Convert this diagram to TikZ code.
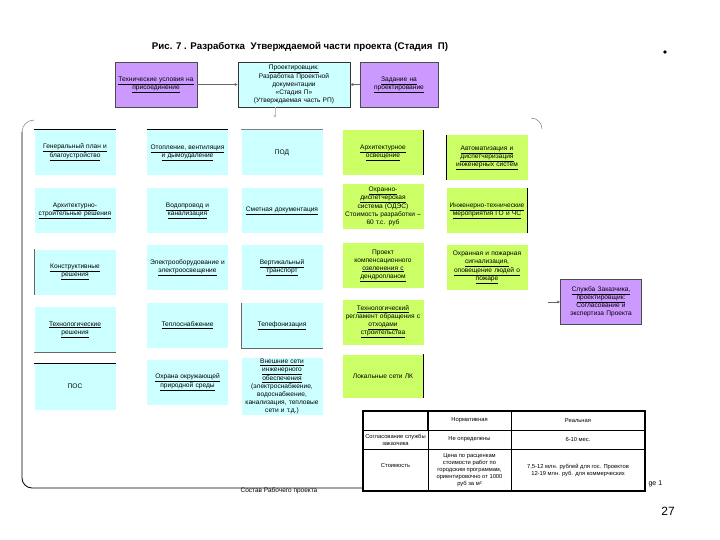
\documentclass[tikz,border=0pt]{standalone}
\usepackage{fontspec}
\setmainfont{Liberation Sans}
\usetikzlibrary{arrows.meta}
\definecolor{cyanbox}{RGB}{204,255,255}
\definecolor{greenbox}{RGB}{204,255,102}
\definecolor{purplebox}{RGB}{204,153,255}
\newcommand\myul[1]{\underline{#1}}
\tikzset{
  basebox/.style={inner sep=1pt, align=center, text width=79pt,
    font=\fontsize{6.6}{8}\selectfont, minimum width=80pt, minimum height=45pt},
  cbox/.style={basebox, fill=cyanbox},
  gbox/.style={basebox, fill=greenbox},
  pbox/.style={basebox, fill=purplebox, draw=black!70, line width=0.5pt},
  conn/.style={draw=black!60, line width=0.5pt, -{Latex[length=3pt,width=3pt]}},
  frameline/.style={draw=black, line width=0.8pt},
  tcell/.style={font=\fontsize{5.8}{7}\selectfont, align=center, inner sep=0pt}
}
\begin{document}
\begin{tikzpicture}[x=1pt,y=-1pt]
\useasboundingbox[fill=white] (0,0) rectangle (720,540);

% title
\node[font=\bfseries\fontsize{9.7}{12}\selectfont] (title) at (300,47) {Рис. 7 . Разработка\ \ Утверждаемой части проекта (Стадия\ \ П)};
\fill (665,52) circle (1.8) coordinate (dot);

% top row
\node[pbox, minimum width=82pt] (tl) at (156,84.5) {\myul{Технические условия на}\\\myul{присоединение}};
\node[basebox, fill=cyanbox, draw=black!80, line width=0.5pt, minimum width=112pt, text width=110pt] (tc) at (294,84.5)
  {\myul{Проектировщик:}\\Разработка Проектной\\документации\\«Стадия П»\\(Утверждаемая часть РП)};
\node[pbox, minimum width=78pt, text width=76pt] (tr) at (399,84.5) {\myul{Задание на}\\\myul{проектирование}};
\draw[conn] (tl) -- (tc);
\draw[conn] (tr) -- (tc);

% frame
\draw[frameline] (22,132) -- (22,478) arc[start angle=180,end angle=90,radius=10] -- (363,488);
\draw[black!60, line width=0.4pt] (22,132) arc[start angle=180,end angle=270,radius=12];
\draw[black!60, line width=0.4pt] (531,118) arc[start angle=270,end angle=360,radius=11];
\coordinate (ftop) at (275,118);
\draw[conn, draw=black!25] (tc.south -| ftop) -- (ftop);

% column 1
\node[cbox] (a1) at (75,152.5) {\myul{Генеральный план и}\\\myul{благоустройство}};
\node[cbox] (a2) at (75,210.5) {\myul{Архитектурно-}\\\myul{строительные решения}};
\node[cbox] (a3) at (75,272) {\myul{Конструктивные}\\\myul{решения}};
\node[cbox] (a4) at (75,329.5) {\myul{Технологические}\\\myul{решения}};
\node[cbox, minimum height=47pt] (a5) at (75,386.5) {ПОС};
% column 2
\node[cbox] (b1) at (187.5,152.5) {\myul{Отопление, вентиляция}\\\myul{и дымоудаление}};
\node[cbox] (b2) at (187.5,210.5) {\myul{Водопровод и}\\\myul{канализация}};
\node[cbox] (b3) at (187.5,267.5) {Электрооборудование и\\\myul{электроосвещение}};
\node[cbox] (b4) at (187.5,325.5) {\myul{Теплоснабжение}};
\node[cbox] (b5) at (187.5,382.5) {\myul{Охрана окружающей}\\\myul{природной среды}};
% column 3
\node[cbox] (c1) at (282,152.5) {ПОД};
\node[cbox] (c2) at (282,210.5) {\myul{Сметная документация}};
\node[cbox] (c3) at (282,267.5) {\myul{Вертикальный}\\\myul{транспорт}};
\node[cbox] (c4) at (282,325.5) {\myul{Телефонизация}};
\node[cbox, minimum height=57pt] (c5) at (282,386.5) {\myul{Внешние сети}\\\myul{инженерного}\\\myul{обеспечения}\\(электроснабжение,\\водоснабжение,\\канализация, тепловые\\сети и т.д.)};
% column 4
\node[gbox] (d1) at (383,152.5) {\myul{Архитектурное}\\\myul{освещение}};
\node[gbox] (d2) at (383,206.5) {\myul{Охранно-}\\\myul{диспетчерская}\\система (ОДЭС)\\Стоимость разработки –\\60 т.с. руб};
\node[gbox] (d3) at (383,265.5) {Проект\\компенсационного\\\myul{озеленения с}\\\myul{дендропланом}};
\node[gbox] (d4) at (383,322) {\myul{Технологический}\\регламент обращения с\\\myul{отходами}\\\myul{строительства}};
\node[gbox, minimum height=43pt] (d5) at (383,376) {Локальные сети ЛК};
% column 5
\node[gbox] (e1) at (487,157.5) {\myul{Автоматизация и}\\\myul{диспетчеризация}\\\myul{инженерных систем}};
\node[gbox] (e2) at (487,210.5) {\myul{Инженерно-технические}\\\myul{мероприятия ГО и ЧС}};
\node[gbox] (e3) at (487,267.5) {Охранная и пожарная\\\myul{сигнализация,}\\\myul{оповещение людей о}\\\myul{пожаре}};

% box edge accents
\draw[black, line width=0.6pt] (a1.north west) -- (a1.north east);
\draw[black, line width=0.6pt] (b1.north west) -- (b1.north east);
\draw[black!50, line width=0.6pt] (c1.north west) -- (c1.north east);
\draw[black, line width=0.6pt] (d1.north east) -- (d1.south east);
\draw[black, line width=0.6pt] (e1.north west) -- (e1.south west);
\draw[black, line width=0.6pt] (e2.north east) -- (e2.south east);
\draw[black!60, line width=0.6pt] (a3.north west) -- (a3.south west);
\draw[black!60, line width=0.6pt] (a4.south west) -- (a4.south east);
\draw[black, line width=0.6pt] (a5.north west) -- (a5.north east);
\draw[black!60, line width=0.6pt] (c4.north west) -- (c4.south west) -- (c4.south east);
\draw[black, line width=0.6pt] (d5.north east) -- (d5.south east);

% right purple box
\node[pbox] (rs) at (601,302) {\myul{Служба Заказчика,}\\\myul{проектировщик:}\\Согласование и\\экспертиза Проекта};
\coordinate (rf) at (548,302);
\draw[conn] (rf) -- (rs);

% table
\coordinate (T0) at (363,411);
\coordinate (T1) at (645,491);
\fill[white] (T0) rectangle (T1);
\draw[line width=0.8pt] (363,430) -- (645,430);
\draw[line width=0.8pt] (363,449) -- (645,449);
\draw[line width=1.8pt] (428,411) -- (428,430);
\draw[line width=0.8pt] (428,430) -- (428,491);
\draw[line width=0.8pt] (511,411) -- (511,491);
\draw[line width=2pt] (T0) rectangle (T1);
\node[tcell] (h2) at (469.5,420.5) {Нормативная};
\node[tcell] (h3) at (578,420.5) {Реальная};
\node[tcell] (r21) at (395.5,439.5) {Согласование службы\\заказчика};
\node[tcell] (r22) at (469.5,439.5) {Не определены};
\node[tcell] (r23) at (578,439.5) {6-10 мес.};
\node[tcell] (r31) at (395.5,466) {Стоимость};
\node[tcell] (r32) at (469.5,470) {Цена по расценкам\\стоимости работ по\\городским программам,\\ориентировочно от 1000\\руб за м²};
\node[tcell] (r33) at (578,470) {7,5-12 млн. рублей для гос. Проектов\\12-19 млн. руб. для коммерческих};

% footer texts
\node[font=\fontsize{6.5}{7.5}\selectfont] (sostav) at (279,491) {Состав Рабочего проекта};
\node[font=\fontsize{7}{8}\selectfont, anchor=west] (page) at (645,484) {ge 1};
\node[font=\fontsize{12}{14}\selectfont] (num) at (668,511) {27};
\end{tikzpicture}
\end{document}
